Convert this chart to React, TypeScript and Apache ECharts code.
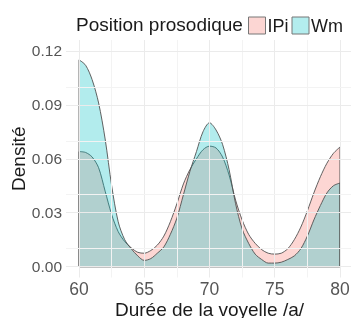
import React, { useEffect, useRef } from "react";
import * as echarts from "echarts";

const xs = [60, 60.5, 61, 61.5, 62, 62.5, 63, 63.5, 64, 64.5, 65, 65.5, 66, 66.5, 67, 67.5, 68, 68.5, 69, 69.5, 70, 70.5, 71, 71.5, 72, 72.5, 73, 73.5, 74, 74.5, 75, 75.5, 76, 76.5, 77, 77.5, 78, 78.5, 79, 79.5, 80];
const ipi = [0.064, 0.0635, 0.061, 0.055, 0.042, 0.029, 0.0195, 0.014, 0.0105, 0.008, 0.0075, 0.009, 0.012, 0.017, 0.025, 0.035, 0.046, 0.054, 0.06, 0.065, 0.067, 0.066, 0.061, 0.051, 0.037, 0.026, 0.018, 0.013, 0.0095, 0.0075, 0.007, 0.0075, 0.01, 0.015, 0.022, 0.031, 0.041, 0.05, 0.0575, 0.063, 0.0665];
const wm = [0.115, 0.112, 0.104, 0.091, 0.071, 0.045, 0.025, 0.015, 0.01, 0.006, 0.0035, 0.0045, 0.0075, 0.011, 0.018, 0.027, 0.04, 0.053, 0.064, 0.075, 0.08, 0.076, 0.068, 0.054, 0.035, 0.021, 0.013, 0.007, 0.004, 0.002, 0.002, 0.0025, 0.004, 0.006, 0.01, 0.017, 0.026, 0.034, 0.041, 0.045, 0.0465];
const xTicks = [60, 65, 70, 75, 80];
const yTicks = [0, 0.03, 0.06, 0.09, 0.12];
const xMajor = [60, 65, 70, 75, 80];
const xMinor = [62.5, 67.5, 72.5, 77.5];
const yMajor = [0, 0.03, 0.06, 0.09, 0.12];
const yMinor = [0.015, 0.045, 0.075, 0.105];
const groups = ["IPi", "Wm"];
const fills = ["#F8766D", "#00BFC4"];

const FONT = "Liberation Sans, Arial, Helvetica, sans-serif";

export default function App() {
  const ref = useRef<HTMLDivElement>(null);
  useEffect(() => {
    if (!ref.current) return;
    const chart = echarts.init(ref.current, undefined, { renderer: "svg" });
    const seriesData = [ipi, wm];
    const last = xs.length - 1;
    const lineColor = "#505050";
    const series: any[] = [
      {
        type: "line",
        name: "grid",
        z: 0,
        silent: true,
        data: [],
        markLine: {
          silent: true,
          symbol: "none",
          animation: false,
          label: { show: false },
          data: [
            ...xMajor.map((v) => ({ xAxis: v, lineStyle: { color: "#ebebeb", width: 1, type: "solid" } })),
            ...xMinor.map((v) => ({ xAxis: v, lineStyle: { color: "#f3f3f3", width: 1, type: "solid" } })),
            ...yMajor.map((v) => ({ yAxis: v, lineStyle: { color: "#ebebeb", width: 1, type: "solid" } })),
            ...yMinor.map((v) => ({ yAxis: v, lineStyle: { color: "#f3f3f3", width: 1, type: "solid" } })),
          ],
        },
      },
    ];
    groups.forEach((g, i) => {
      const d = seriesData[i];
      series.push({
        type: "line",
        name: g,
        z: 2 + i,
        smooth: 0.3,
        symbol: "none",
        silent: true,
        data: xs.map((x, k) => [x, d[k]]),
        lineStyle: { color: lineColor, width: 0.9 },
        itemStyle: { color: fills[i] },
        areaStyle: { color: fills[i], opacity: 0.3, origin: 0 },
      });
      series.push({
        type: "line",
        name: g + "-edge",
        z: 4,
        symbol: "none",
        silent: true,
        data: [
          [xs[0], d[0]],
          [xs[0], 0],
          [xs[last], 0],
          [xs[last], d[last]],
        ],
        lineStyle: { color: lineColor, width: 0.9 },
      });
    });

    chart.setOption({
      animation: false,
      textStyle: { fontFamily: FONT },
      grid: { left: 66, top: 40, width: 287, height: 237.5, containLabel: false, outerBoundsMode: "none" },
      legend: {
        left: 248,
        top: 16.5,
        padding: 0,
        itemWidth: 17,
        itemHeight: 17,
        itemGap: 3,
        selectedMode: false,
        textStyle: { fontSize: 18, color: "#1a1a1a", fontFamily: FONT, padding: [0, 0, 0, -3] },
        data: groups.map((g, i) => ({
          name: g,
          icon: "rect",
          itemStyle: { color: i === 0 ? "#FCD6D3" : "#B3EDEE", borderColor: "#777", borderWidth: 1 },
          lineStyle: { opacity: 0 },
        })),
      },
      graphic: [
        {
          type: "text",
          left: 76,
          top: 15,
          style: { text: "Position prosodique", fontSize: 19, fill: "#1a1a1a", fontFamily: FONT },
        },
      ],
      xAxis: {
        type: "value",
        min: 59,
        max: 81,
        splitLine: { show: false },
        axisLine: { show: false },
        axisTick: { show: false },
        axisLabel: { customValues: xTicks, fontSize: 17.5, lineHeight: 14, color: "#555", margin: 4.5, fontFamily: FONT },
        name: "Durée de la voyelle /a/",
        nameLocation: "middle",
        nameGap: 23.5,
        nameMoveOverlap: false,
        nameTextStyle: { fontSize: 19, lineHeight: 17, color: "#1a1a1a", fontFamily: FONT, verticalAlign: "top" },
      },
      yAxis: {
        type: "value",
        min: -0.006,
        max: 0.126,
        splitLine: { show: false },
        axisLine: { show: false },
        axisTick: { show: false },
        axisLabel: {
          customValues: yTicks,
          fontSize: 15.5,
          color: "#555",
          margin: 4,
          fontFamily: FONT,
          formatter: (v: number) => v.toFixed(2),
        },
        name: "Densité",
        nameLocation: "middle",
        nameGap: 38,
        nameMoveOverlap: false,
        nameTextStyle: { fontSize: 19, color: "#1a1a1a", fontFamily: FONT },
      },
      series,
    });
    return () => chart.dispose();
  }, []);
  return <div ref={ref} style={{ position: "fixed", left: 0, top: 0, width: 351, height: 318 }} />;
}
